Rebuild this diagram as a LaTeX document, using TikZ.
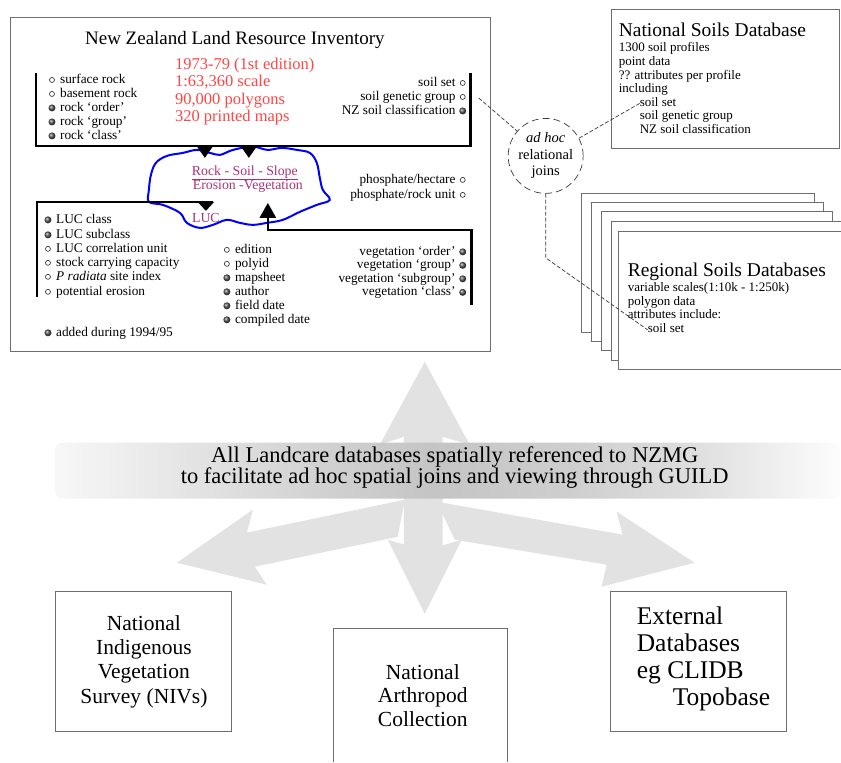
\documentclass[tikz,border=0pt]{standalone}
\usepackage{fontspec}
\setmainfont{Liberation Serif}
\usetikzlibrary{arrows.meta}
\definecolor{lrired}{RGB}{255,70,70}
\definecolor{cloudtxt}{RGB}{170,50,120}
\definecolor{arrowgray}{RGB}{226,226,226}
\definecolor{boxgray}{RGB}{110,110,110}
\pgfdeclarehorizontalshading{bandshade}{100bp}{color(0bp)=(white); color(25bp)=(gray!6); color(34bp)=(gray!22); color(42bp)=(gray!36); color(49bp)=(gray!46); color(58bp)=(gray!38); color(66bp)=(gray!25); color(75bp)=(gray!2); color(100bp)=(white)}
\newcommand\myfs[2]{\fontsize{#1}{#2}\selectfont}
\tikzset{
  boxline/.style={draw=boxgray, line width=1pt},
  brk/.style={line width=2.6pt, black},
  itm/.style={inner sep=0pt, font=\myfs{13.3}{14}, text height=9pt, text depth=2.5pt},
  small/.style={inner sep=0pt, font=\myfs{13}{14}, text height=8.5pt, text depth=2.5pt},
  mkf/.style={circle, inner sep=0pt, minimum size=7pt, ball color=gray!65!black},
  mko/.style={circle, inner sep=0pt, minimum size=5pt, draw=gray!30!black, line width=0.6pt, fill=white},
  dashline/.style={draw=gray!45!black, line width=0.7pt, dash pattern=on 4pt off 2pt},
}
\begin{document}
\begin{tikzpicture}[x=1pt,y=-1pt]
\fill[white] (0,0) rectangle (841,762);
% big gray arrows
\fill[arrowgray] (425,362) -- (470,445) -- (443,437) -- (443,548) -- (404,548) -- (404,437) -- (380,445) -- cycle;
\fill[arrowgray] (425,614) -- (388,540) -- (408,546) -- (442,546) -- (462,540) -- cycle;
\fill[arrowgray] (405,500) -- (247,533) -- (253,510) -- (177,563) -- (267,585) -- (255,567) -- (398,537) -- cycle;
\fill[arrowgray] (437,502) -- (623,535) -- (617,512) -- (695,563) -- (602,587) -- (607,565) -- (455,540) -- cycle;
% band
\shade[shading=bandshade, rounded corners=8pt] (55,443) rectangle (841,499);
\node[align=center, font=\myfs{22.5}{21.5}, inner sep=0pt] (bandtxt) at (455,468) {All Landcare databases spatially referenced to NZMG\\to facilitate ad hoc spatial joins and viewing through GUILD};

% LRI box
\node[boxline, line width=1.3pt, minimum width=480pt, minimum height=334pt, anchor=north west, inner sep=0pt] (lri) at (10,17) {};
\node[font=\myfs{19}{20}, inner sep=0pt] (lrititle) at (235,40) {New Zealand Land Resource Inventory};
\node[font=\myfs{16.5}{17.4}, text=lrired, align=left, anchor=north west, inner sep=0pt] (lrired) at (175,58) {1973-79 (1st edition)\\1:63,360 scale\\90,000 polygons\\320 printed maps};

% cloud
\draw[blue, line width=2pt] plot[smooth cycle, tension=0.6] coordinates {(151,175) (156,163) (167,156) (183,153) (197,150) (210,153) (220,155) (230,151) (242,148) (255,147) (268,150) (282,148) (297,150) (310,153) (317,163) (320,178) (323,190) (330,200) (317,205) (300,212) (283,220) (267,223) (253,225) (240,223) (227,220) (213,225) (200,228) (187,223) (180,213) (163,205) (149,202) (149,190)};
\node[font=\myfs{13.8}{14}, text=cloudtxt, inner sep=0pt] (rss) at (245,173) {\underline{Rock - Soil - Slope}};
\node[font=\myfs{13.8}{14}, text=cloudtxt, inner sep=0pt] (erv) at (248,187) {Erosion -Vegetation};
\node[font=\myfs{13.8}{14}, text=cloudtxt, inner sep=0pt] (luc) at (206,218) {LUC};

% brackets and arrows
\draw[brk] (36,73) -- (36,146) -- (471,146) -- (471,73);
\draw[brk, -{Triangle[width=16pt,length=12pt]}] (205,145) -- (205,158);
\draw[brk, -{Triangle[width=16pt,length=12pt]}] (249,145) -- (249,158);
\draw[brk] (37,297) -- (37,202) -- (213,202);
\draw[brk, -{Triangle[width=16pt,length=9pt]}] (206,201) -- (206,211);
\draw[brk] (472,305) -- (472,230) -- (268,230);
\draw[brk, -{Triangle[width=16pt,length=15pt]}] (268,231) -- (268,203);

% top-left list
\foreach \t/\m/\y [count=\i] in {surface rock/o/80, basement rock/o/94, {rock `order'}/f/108, {rock `group'}/f/122, {rock `class'}/f/136} {
  \node[mk\m] (tlm\i) at (52,\y) {};
  \node[itm, anchor=west] (tl\i) at (60,\y) {\t};
}
% top-right list
\foreach \t/\m/\y [count=\i] in {soil set/o/83, soil genetic group/o/97, NZ soil classification/f/111} {
  \node[mk\m] (trm\i) at (463,\y) {};
  \node[itm, anchor=east] (tr\i) at (456,\y) {\t};
}
\node[mko] (phm1) at (463,180) {};
\node[itm, anchor=east] (ph1) at (456,180) {phosphate/hectare};
\node[mko] (phm2) at (463,195) {};
\node[itm, anchor=east] (ph2) at (456,195) {phosphate/rock unit};
% bottom-left list
\foreach \t/\m/\y [count=\i] in {LUC class/f/220, LUC subclass/f/235, LUC correlation unit/o/249, stock carrying capacity/o/263, {\textit{P radiata} site index}/o/277, potential erosion/o/292} {
  \node[mk\m] (blm\i) at (48,\y) {};
  \node[itm, anchor=west] (bl\i) at (56,\y) {\t};
}
% middle list
\foreach \t/\m/\y [count=\i] in {edition/o/250, polyid/o/264, mapsheet/f/278, author/f/292, field date/f/306, compiled date/f/320} {
  \node[mk\m] (mlm\i) at (227,\y) {};
  \node[itm, anchor=west] (ml\i) at (235,\y) {\t};
}
% vegetation list
\foreach \t/\m/\y [count=\i] in {{vegetation `order'}/f/252, {vegetation `group'}/f/265.5, {vegetation `subgroup'}/f/279, {vegetation `class'}/f/292.5} {
  \node[mk\m] (vgm\i) at (463,\y) {};
  \node[itm, anchor=east] (vg\i) at (456,\y) {\t};
}
\node[mkf] (addm) at (48,333) {};
\node[itm, anchor=west] (add) at (56,333) {added during 1994/95};

% National Soils Database
\node[boxline, minimum width=228pt, minimum height=139pt, anchor=north west, inner sep=0pt] (nsd) at (611,9) {};
\node[font=\myfs{19.5}{20}, inner sep=0pt, anchor=base west] (nsdt) at (619,37) {National Soils Database};
\foreach \t/\x/\y [count=\i] in {1300 soil profiles/619/49, point data/619/63, ?? attributes per profile/619/76.5, including/619/90, soil set/640/103.5, soil genetic group/640/117, NZ soil classification/640/131} {
  \node[small, anchor=west] (nsd\i) at (\x,\y) {\t};
}

% Regional stack
\filldraw[boxline, fill=white] (582,194) rectangle (815,333);
\filldraw[boxline, fill=white] (592,203) rectangle (824,342);
\filldraw[boxline, fill=white] (602,212) rectangle (833,351);
\fill[white] (612,222) rectangle (841,361);
\draw[boxline] (841,222) -- (612,222) -- (612,361) -- (841,361);
\fill[white] (619,232) rectangle (841,370);
\draw[boxline] (841,232) -- (619,232) -- (619,370) -- (841,370);
\node[font=\myfs{19.5}{20}, inner sep=0pt, anchor=base west] (rst) at (628,277) {Regional Soils Databases};
\foreach \t/\x/\y [count=\i] in {{variable scales(1:10k - 1:250k)}/628/289, polygon data/628/302.5, attributes include:/628/316, soil set/648/330} {
  \node[small, anchor=west] (rs\i) at (\x,\y) {\t};
}

% ad hoc joins
\node[circle, draw=gray!45!black, line width=0.7pt, dash pattern=on 7pt off 4pt, minimum size=75pt, inner sep=0pt, align=center, font=\myfs{14.5}{16.5}] (adhoc) at (546,156) {\textit{ad hoc}\\relational\\joins};
\coordinate (j1) at (479,98);
\coordinate (j3) at (546,258);
\draw[dashline] (j1) -- (adhoc.139);
\draw[dashline] (adhoc.28) -- (nsd5.west);
\draw[dashline] (adhoc.south) -- (j3) -- (rs4.west);

% bottom boxes
\node[boxline, minimum width=176pt, minimum height=140pt, inner sep=0pt, align=center, font=\myfs{21.5}{24.5}] (nivs) at (144,662) {National\\Indigenous\\Vegetation\\Survey (NIVs)};
\draw[boxline] (334,762) -- (334,629) -- (508,629) -- (508,762);
\node[align=center, font=\myfs{21.5}{23.5}, inner sep=0pt] (arth) at (423,696) {National\\Arthropod\\Collection};
\node[boxline, minimum width=176pt, minimum height=140pt, inner sep=0pt] (extbox) at (699,662) {};
\node[align=left, font=\myfs{25.5}{27}, inner sep=0pt, anchor=west] (ext) at (637,659) {External\\Databases\\eg CLIDB\\\hspace*{36pt}Topobase};
\end{tikzpicture}
\end{document}
